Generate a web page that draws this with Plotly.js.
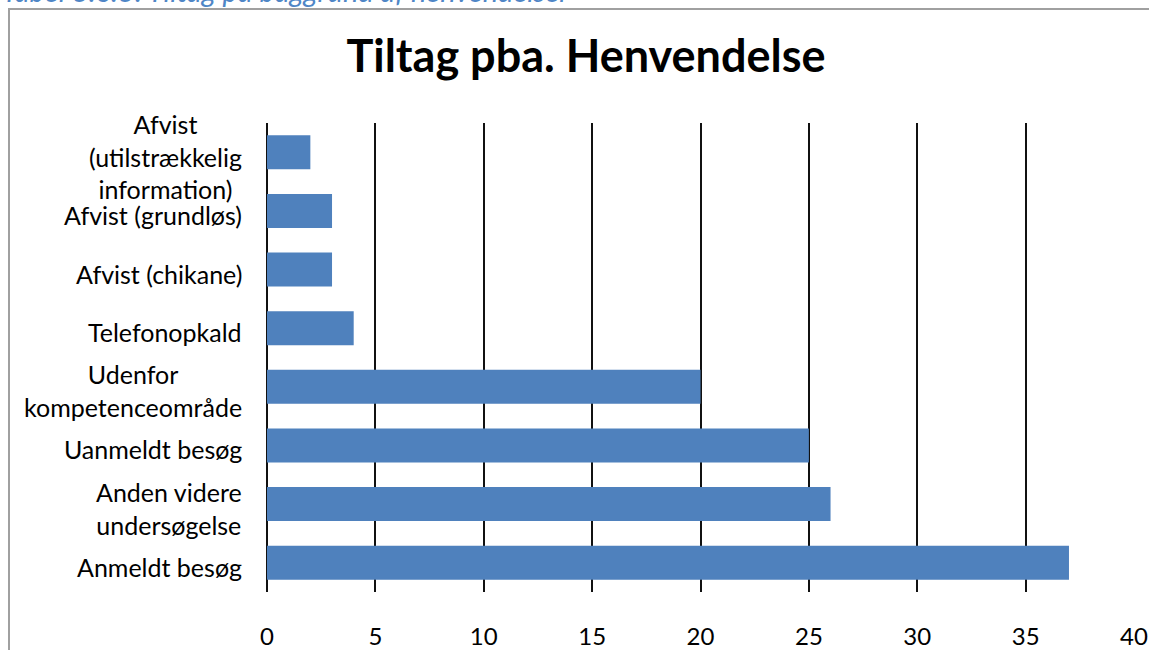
<!DOCTYPE html>
<html>
<head>
<meta charset="utf-8">
<script src="https://cdn.plot.ly/plotly-3.0.1.min.js"></script>
<style>
  html, body { margin: 0; padding: 0; background: #fff; }
  #frame { position: absolute; left: 8px; top: 8px; width: 1160px; height: 660px;
           border-left: 2px solid #a0a0a0; border-top: 2px solid #a0a0a0; pointer-events: none; z-index: 2; }
  #chart { position: absolute; left: 0; top: 0; width: 1149px; height: 650px; }
</style>
</head>
<body>
<div id="chart"></div>
<div id="frame"></div>
<script>
// Categories top to bottom
var categories = [
  "Afvist (utilstrækkelig information)",
  "Afvist (grundløs)",
  "Afvist (chikane)",
  "Telefonopkald",
  "Udenfor kompetenceområde",
  "Uanmeldt besøg",
  "Anden videre undersøgelse",
  "Anmeldt besøg"
];
var categoryLabels = [
  "Afvist<br>(utilstrækkelig<br>information)",
  "Afvist (grundløs)",
  "Afvist (chikane)",
  "Telefonopkald",
  "Udenfor<br>kompetenceområde",
  "Uanmeldt besøg",
  "Anden videre<br>undersøgelse",
  "Anmeldt besøg"
];
var values = [2, 3, 3, 4, 20, 25, 26, 37];
var xTicks = [0, 5, 10, 15, 20, 25, 30, 35, 40];
var captionText = "Tabel 3.6.3: Tiltag på baggrund af henvendelser";

var FONT = "Lato, 'Open Sans', sans-serif";

var annotations = categories.map(function (c, i) {
  return {
    xref: "x", yref: "y", x: 0, y: c,
    xanchor: "right", yanchor: "middle", align: "center",
    xshift: -23, yshift: -4,
    text: categoryLabels[i], showarrow: false,
    font: { family: FONT, size: 25, color: "#000" }
  };
});
annotations.push({
  xref: "paper", yref: "paper", x: -0.308, y: 1.283,
  xanchor: "left", yanchor: "middle",
  text: "<i>" + captionText + "</i>",
  showarrow: false,
  font: { family: FONT, size: 29, color: "#4f86c6" }
});

var trace = {
  type: "bar",
  orientation: "h",
  y: categories,
  x: values,
  marker: { color: "#4f81bd" },
  hoverinfo: "x+y"
};

var layout = {
  width: 1149, height: 650,
  margin: { l: 267, r: 15, t: 123, b: 58, pad: 0 },
  paper_bgcolor: "rgba(0,0,0,0)",
  plot_bgcolor: "#fff",
  bargap: 0.42,
  showlegend: false,
  title: {
    text: "<b>Tiltag pba. Henvendelse</b>",
    font: { family: FONT, size: 45, color: "#000" },
    x: 0.51, xanchor: "center", xref: "container",
    y: 0.913, yanchor: "middle", yref: "container"
  },
  xaxis: {
    range: [0, 40],
    tickvals: xTicks,
    ticktext: xTicks.map(String),
    showgrid: true, gridcolor: "#111", gridwidth: 2,
    zeroline: true, zerolinecolor: "#111", zerolinewidth: 2,
    showline: false, ticks: "",
    ticklabelstandoff: 28,
    tickfont: { family: FONT, size: 24, color: "#000" },
    fixedrange: true
  },
  yaxis: {
    type: "category",
    categoryorder: "array",
    categoryarray: categories,
    range: [categories.length - 0.5, -0.5],
    autorange: false,
    showticklabels: false,
    showgrid: false, zeroline: false, showline: false, ticks: "",
    fixedrange: true
  },
  annotations: annotations
};

Plotly.newPlot("chart", [trace], layout, { displayModeBar: false, staticPlot: true });
</script>
</body>
</html>
